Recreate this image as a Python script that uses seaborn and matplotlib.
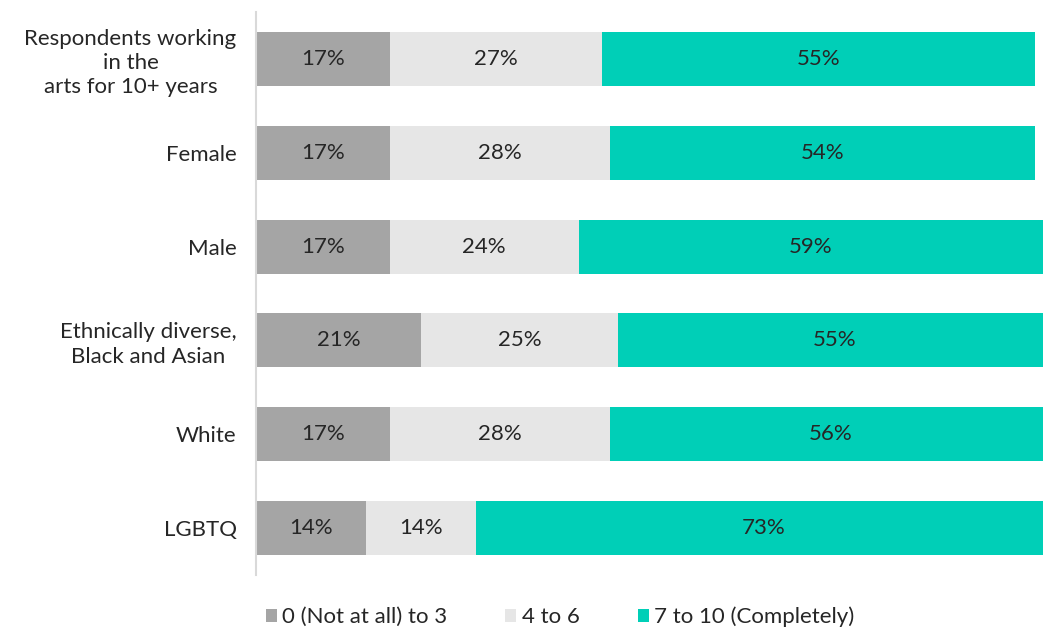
import numpy as np
import pandas as pd
import seaborn as sns
import matplotlib.pyplot as plt
from matplotlib.patches import Patch

groups = [
    "Respondents working\nin the\narts for 10+ years",
    "Female",
    "Male",
    "Ethnically diverse,\nBlack and Asian",
    "White",
    "LGBTQ",
]
low = [17, 17, 17, 21, 17, 14]        # 0 (Not at all) to 3
mid = [27, 28, 24, 25, 28, 14]        # 4 to 6
high = [55, 54, 59, 55, 56, 73]       # 7 to 10 (Completely)
series_names = ["0 (Not at all) to 3", "4 to 6", "7 to 10 (Completely)"]
colors = ["#A5A5A5", "#E6E6E6", "#00CFB7"]

sns.set_theme(style="white")
plt.rcParams["font.family"] = ["Lato", "DejaVu Sans"]
FS = 16
TXT = "#262626"

df = pd.DataFrame({"group": groups, "low": low, "mid": mid, "high": high})
df["c1"] = df["low"]
df["c2"] = df["low"] + df["mid"]
df["c3"] = df["low"] + df["mid"] + df["high"]

fig = plt.figure(figsize=(10.43, 6.29), dpi=100)
ax = fig.add_axes([0.2454, 0.0859, 0.7546, 0.8951])

# stacked look: draw cumulative totals from the longest down
for col, color in zip(["c3", "c2", "c1"], colors[::-1]):
    sns.barplot(data=df, x=col, y="group", orient="h", color=color,
                width=0.576, saturation=1, ax=ax, linewidth=0)

ax.set_xlim(0, 100)
ax.set_ylim(5.5, -0.5)
ax.set_xlabel("")
ax.set_ylabel("")
ax.set_xticks([])

for i in range(len(groups)):
    starts = [0, low[i], low[i] + mid[i]]
    for s, v in zip(starts, [low[i], mid[i], high[i]]):
        ax.text(s + v / 2, i, f"{v}%", ha="center", va="center",
                fontsize=FS, color=TXT)

ax.set_yticks(range(len(groups)))
ax.set_yticklabels(groups, multialignment="center", linespacing=1.27)
ax.tick_params(axis="y", length=0, pad=14, labelsize=FS, labelcolor=TXT)

for side in ["top", "right", "bottom"]:
    ax.spines[side].set_visible(False)
ax.spines["left"].set_color("#D9D9D9")
ax.spines["left"].set_linewidth(1.5)

handles = [Patch(facecolor=c, edgecolor="none") for c in colors]
fig.legend(handles, series_names, loc="center", bbox_to_anchor=(0.537, 0.019),
           ncol=3, frameon=False, fontsize=FS, handlelength=0.5,
           handleheight=0.5, handletextpad=0.25, columnspacing=2.6,
           labelcolor=TXT)

fig.savefig("out.png", dpi=100)
